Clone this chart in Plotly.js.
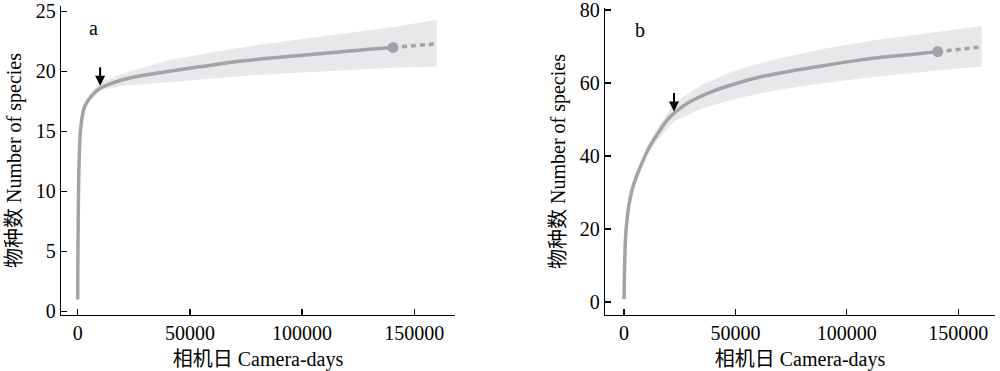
<!DOCTYPE html>
<html>
<head>
<meta charset="utf-8">
<script src="https://cdn.plot.ly/plotly-3.0.1.min.js"></script>
<style>html,body{margin:0;padding:0;background:#fff;}#chart{width:1000px;height:371px;}</style>
</head>
<body>
<div id="chart"></div>
<script>
// ---- Panel a: rarefaction (interpolated) curve ----
const aX = [1, 50, 150, 300, 500, 800, 1200, 1800, 2800, 4000, 6000, 8000, 10000, 15000, 20000, 30000, 40000, 55000, 70000, 85000, 100000, 115000, 130000, 140500];
const aY = [1, 3, 6, 9, 11.5, 13.5, 15.0, 16.0, 16.9, 17.4, 17.9, 18.3, 18.6, 19.0, 19.3, 19.7, 20.0, 20.4, 20.8, 21.1, 21.35, 21.6, 21.85, 22.0];
// extrapolated part
const aExtX = [140500, 150000, 160000];
const aExtY = [22.0, 22.15, 22.3];
// observed point
const aObsX = [140500];
const aObsY = [22.0];
// 95% confidence band
const aBandX  = [3000, 5000, 10000, 20000, 40000, 60000, 80000, 100000, 120000, 140500, 160000];
const aBandLo = [16.9, 17.5, 18.4, 18.8, 19.1, 19.4, 19.7, 19.9, 20.1, 20.3, 20.4];
const aBandHi = [17.2, 18.0, 19.1, 19.8, 20.9, 21.6, 22.2, 22.7, 23.2, 23.7, 24.3];
const aArrow = [10000, 18.8];

// ---- Panel b ----
const bX = [1, 200, 500, 1000, 1500, 2000, 2700, 3500, 5500, 8000, 11000, 15000, 20000, 25000, 30000, 40000, 50000, 60000, 75000, 90000, 105000, 120000, 130000, 140800];
const bY = [0.8, 8, 15, 20.3, 23.3, 25.8, 28.2, 30.5, 34.2, 38.0, 42.0, 46.0, 50.3, 53, 55, 57.8, 59.8, 61.5, 63.3, 64.8, 66.2, 67.3, 67.9, 68.6];
const bExtX = [140800, 150000, 160500];
const bExtY = [68.6, 69.2, 69.9];
const bObsX = [140800];
const bObsY = [68.6];
const bBandX  = [8000, 10000, 15000, 22500, 35000, 50000, 70000, 90000, 110000, 130000, 140800, 160500];
const bBandLo = [37.8, 40.0, 44.3, 49.5, 53.0, 55.7, 58.2, 60.0, 61.5, 62.8, 63.4, 64.5];
const bBandHi = [38.2, 42.2, 47.7, 54.5, 59.5, 63.5, 66.8, 69.4, 71.5, 73.2, 74.0, 75.6];
const bArrow = [22440, 52.2];

const panelLabels = ['a', 'b'];
const xTitle = '相机日 Camera-days';
const yTitle = '物种数 Number of species';

const lineColor = '#a4a2a9';
const bandColor = '#e7e8e9';
const FONT = '"Liberation Serif", "Times New Roman", "Noto Sans CJK SC", serif';

function panel(xa, ya, X, Y, EX, EY, OX, OY, BX, BL, BH) {
  return [
    {x: BX, y: BL, xaxis: xa, yaxis: ya, type: 'scatter', mode: 'lines', line: {width: 0, color: bandColor}, hoverinfo: 'skip', showlegend: false},
    {x: BX, y: BH, xaxis: xa, yaxis: ya, type: 'scatter', mode: 'lines', fill: 'tonexty', fillcolor: bandColor, line: {width: 0, color: bandColor}, hoverinfo: 'skip', showlegend: false},
    {x: X, y: Y, xaxis: xa, yaxis: ya, type: 'scatter', mode: 'lines', line: {color: lineColor, width: 3.5, shape: 'spline', smoothing: 0.6}, showlegend: false},
    {x: EX, y: EY, xaxis: xa, yaxis: ya, type: 'scatter', mode: 'lines', line: {color: lineColor, width: 3.5, dash: '5px,4px'}, showlegend: false},
    {x: OX, y: OY, xaxis: xa, yaxis: ya, type: 'scatter', mode: 'markers', marker: {color: lineColor, size: 11}, showlegend: false}
  ];
}

const data = [].concat(
  panel('x', 'y', aX, aY, aExtX, aExtY, aObsX, aObsY, aBandX, aBandLo, aBandHi),
  panel('x2', 'y2', bX, bY, bExtX, bExtY, bObsX, bObsY, bBandX, bBandLo, bBandHi)
);

const axBase = {
  showgrid: false, zeroline: false, showline: true, linecolor: '#000', linewidth: 1.3,
  ticks: 'inside', ticklen: 6, tickwidth: 1.3, tickcolor: '#000',
  tickfont: {family: FONT, size: 20, color: '#000'}, automargin: false,
  ticklabeloverflow: 'allow'
};

const yDomA = [1 - 315 / 371, 1 - 6 / 371];
const yDomB = [1 - 315 / 371, 1 - 8 / 371];

const layout = {
  width: 1000, height: 371,
  margin: {l: 0, r: 0, t: 0, b: 0},
  paper_bgcolor: '#fff', plot_bgcolor: 'rgba(0,0,0,0)',
  font: {family: FONT, size: 20, color: '#000'},
  xaxis: Object.assign({}, axBase, {domain: [61 / 1000, 455 / 1000], range: [-7440, 168140], tickvals: [0, 50000, 100000, 150000], ticktext: ['0', '50000', '100000', '150000'], title: {text: xTitle, font: {family: FONT, size: 20}, standoff: 8}, anchor: 'y'}),
  yaxis: Object.assign({}, axBase, {domain: yDomA, range: [-0.3, 25.45], tickvals: [0, 5, 10, 15, 20, 25], title: {text: yTitle, font: {family: FONT, size: 20}, standoff: 8}, anchor: 'x'}),
  xaxis2: Object.assign({}, axBase, {domain: [605 / 1000, 995 / 1000], range: [-8530, 166500], tickvals: [0, 50000, 100000, 150000], ticktext: ['0', '50000', '100000', '150000'], title: {text: xTitle, font: {family: FONT, size: 20}, standoff: 8}, anchor: 'y2'}),
  yaxis2: Object.assign({}, axBase, {domain: yDomB, range: [-3.56, 80.55], tickvals: [0, 20, 40, 60, 80], title: {text: yTitle, font: {family: FONT, size: 20}, standoff: 8}, anchor: 'x2'}),
  annotations: [
    {xref: 'x domain', yref: 'y domain', x: 0.066, y: 0.971, text: panelLabels[0], showarrow: false, font: {family: FONT, size: 20}},
    {xref: 'x2 domain', yref: 'y2 domain', x: 0.072, y: 0.971, text: panelLabels[1], showarrow: false, font: {family: FONT, size: 20}},
    {xref: 'x', yref: 'y', x: aArrow[0], y: aArrow[1], ax: 0, ay: -20, text: '', showarrow: true, arrowhead: 2, arrowsize: 1, arrowwidth: 2, arrowcolor: '#000', standoff: 0},
    {xref: 'x2', yref: 'y2', x: bArrow[0], y: bArrow[1], ax: 0, ay: -20, text: '', showarrow: true, arrowhead: 2, arrowsize: 1, arrowwidth: 2, arrowcolor: '#000', standoff: 0}
  ]
};

Plotly.newPlot('chart', data, layout, {displayModeBar: false, staticPlot: true});
</script>
</body>
</html>
